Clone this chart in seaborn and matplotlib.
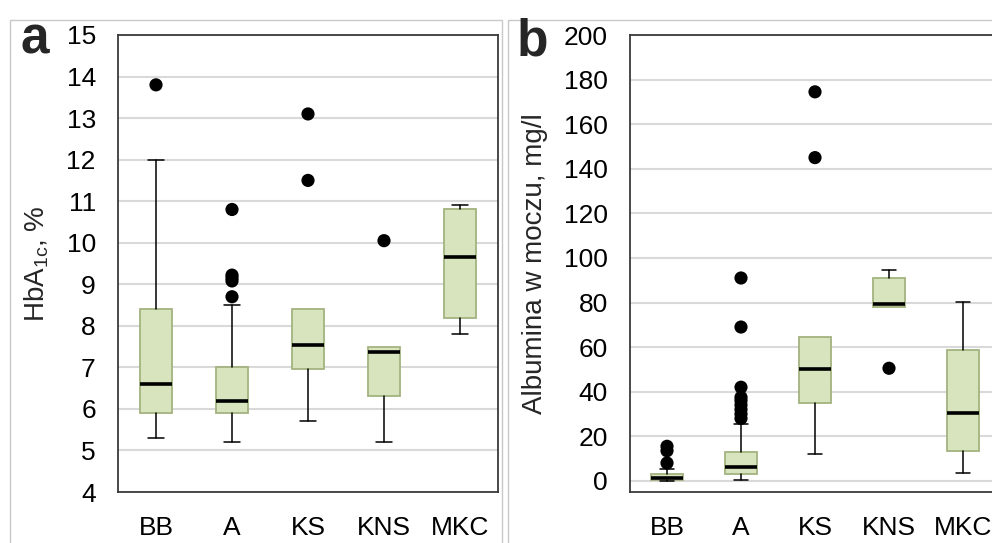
import matplotlib
matplotlib.use('Agg')  # no display

import pandas as pd
import seaborn as sns
import matplotlib.pyplot as plt
from matplotlib.patches import Rectangle

groups = ["BB", "A", "KS", "KNS", "MKC"]

# panel a - HbA1c, %
hba_q1 = [5.9, 5.9, 6.95, 6.3, 8.2]
hba_med = [6.6, 6.2, 7.55, 7.38, 9.65]
hba_q3 = [8.4, 7.0, 8.4, 7.5, 10.8]
hba_lo = [5.3, 5.2, 5.7, 5.2, 7.8]
hba_hi = [12.0, 8.5, 8.4, 7.5, 10.9]
hba_out_grp = ["BB", "A", "A", "A", "A", "A", "KS", "KS", "KNS"]
hba_out_val = [13.8, 8.7, 9.08, 9.15, 9.22, 10.8, 11.5, 13.1, 10.05]

# panel b - albumina w moczu, mg/l
alb_q1 = [0.5, 3.0, 34.7, 78.0, 13.4]
alb_med = [1.5, 6.0, 50.2, 79.3, 30.6]
alb_q3 = [3.0, 12.8, 64.5, 91.0, 58.6]
alb_lo = [0.0, 0.5, 12.0, 78.0, 3.7]
alb_hi = [5.5, 25.5, 64.5, 94.8, 80.2]
alb_out_grp = ["BB", "BB", "BB", "A", "A", "A", "A", "A", "A", "A", "A", "A",
               "KS", "KS", "KNS"]
alb_out_val = [8.0, 13.5, 15.5, 28.0, 30.0, 32.0, 34.0, 36.0, 37.5, 42.0,
               69.0, 91.0, 145.0, 174.5, 50.5]

BOX_FACE = "#d7e4bd"
BOX_EDGE = "#a3b37f"
GRID = "#d9d9d9"
SPINE = "#3a3a3a"

sns.set_theme(style="white")
plt.rcParams['font.family'] = ['Liberation Sans', 'DejaVu Sans']
plt.rcParams['mathtext.fontset'] = 'custom'
plt.rcParams['mathtext.rm'] = 'Liberation Sans'


def draw_panel(ax, q1, med, q3, lo, hi, out_grp, out_val):
    stats = []
    for i in range(len(groups)):
        stats.append({"med": med[i], "q1": q1[i], "q3": q3[i],
                      "whislo": lo[i], "whishi": hi[i], "fliers": []})
    parts = ax.bxp(stats, positions=range(len(groups)), widths=0.42,
                   capwidths=0.2, patch_artist=True, showfliers=False,
                   boxprops=dict(facecolor=BOX_FACE, edgecolor=BOX_EDGE, linewidth=1.3),
                   medianprops=dict(color="black", linewidth=2.6),
                   whiskerprops=dict(color="black", linewidth=1.1),
                   capprops=dict(color="black", linewidth=1.1))
    # no cap where there is no whisker
    for i in range(len(groups)):
        if lo[i] >= q1[i]:
            parts["caps"][2 * i].set_visible(False)
        if hi[i] <= q3[i]:
            parts["caps"][2 * i + 1].set_visible(False)
    out = pd.DataFrame({"x": [groups.index(g) for g in out_grp], "y": out_val})
    sns.scatterplot(data=out, x="x", y="y", ax=ax, color="black", s=90,
                    edgecolor="none", zorder=5)
    ax.set_xlim(-0.5, 4.5)
    ax.set_xticks(range(len(groups)), groups)
    ax.set_xlabel("")
    ax.set_axisbelow(True)
    ax.yaxis.grid(True, color=GRID, linewidth=1.5)
    ax.xaxis.grid(False)
    for s in ax.spines.values():
        s.set_color(SPINE)
        s.set_linewidth(1.3)
    ax.tick_params(axis="both", direction="out", length=5, width=1.2,
                   color=SPINE, labelsize=19, labelcolor="black")
    ax.tick_params(axis="y", pad=11)
    ax.tick_params(axis="x", pad=11, length=6)


fig = plt.figure(figsize=(9.92, 5.43), dpi=100)
axa = fig.add_axes([118 / 992, 1 - 492 / 543, 380 / 992, 457 / 543])
axb = fig.add_axes([630 / 992, 1 - 492 / 543, 370 / 992, 457 / 543])

draw_panel(axa, hba_q1, hba_med, hba_q3, hba_lo, hba_hi, hba_out_grp, hba_out_val)
axa.set_ylim(4, 15)
axa.set_yticks(range(4, 16))
axa.set_ylabel(r"HbA$_{\mathregular{1c}}$, %", fontsize=20)
axa.yaxis.set_label_coords(-0.176, 0.5)

draw_panel(axb, alb_q1, alb_med, alb_q3, alb_lo, alb_hi, alb_out_grp, alb_out_val)
axb.set_ylim(-5, 200)
axb.set_yticks(range(0, 201, 20))
axb.set_ylabel("Albumina w moczu, mg/l", fontsize=20)
axb.yaxis.set_label_coords(-0.221, 0.5)

# panel frames
fig.patches.append(Rectangle((10 / 992, -0.02), 492 / 992, 1.0016 - 10 / 543,
                             transform=fig.transFigure, fill=False,
                             edgecolor="#c8c8c8", linewidth=1))
fig.patches.append(Rectangle((508 / 992, -0.02), 0.5, 1.0016 - 10 / 543,
                             transform=fig.transFigure, fill=False,
                             edgecolor="#c8c8c8", linewidth=1))

fig.text(21 / 992, 1 - 54 / 543, "a", fontsize=37, fontweight="bold", va="baseline")
fig.text(517 / 992, 1 - 55 / 543, "b", fontsize=37, fontweight="bold", va="baseline")

fig.savefig("out.png", dpi=100)
